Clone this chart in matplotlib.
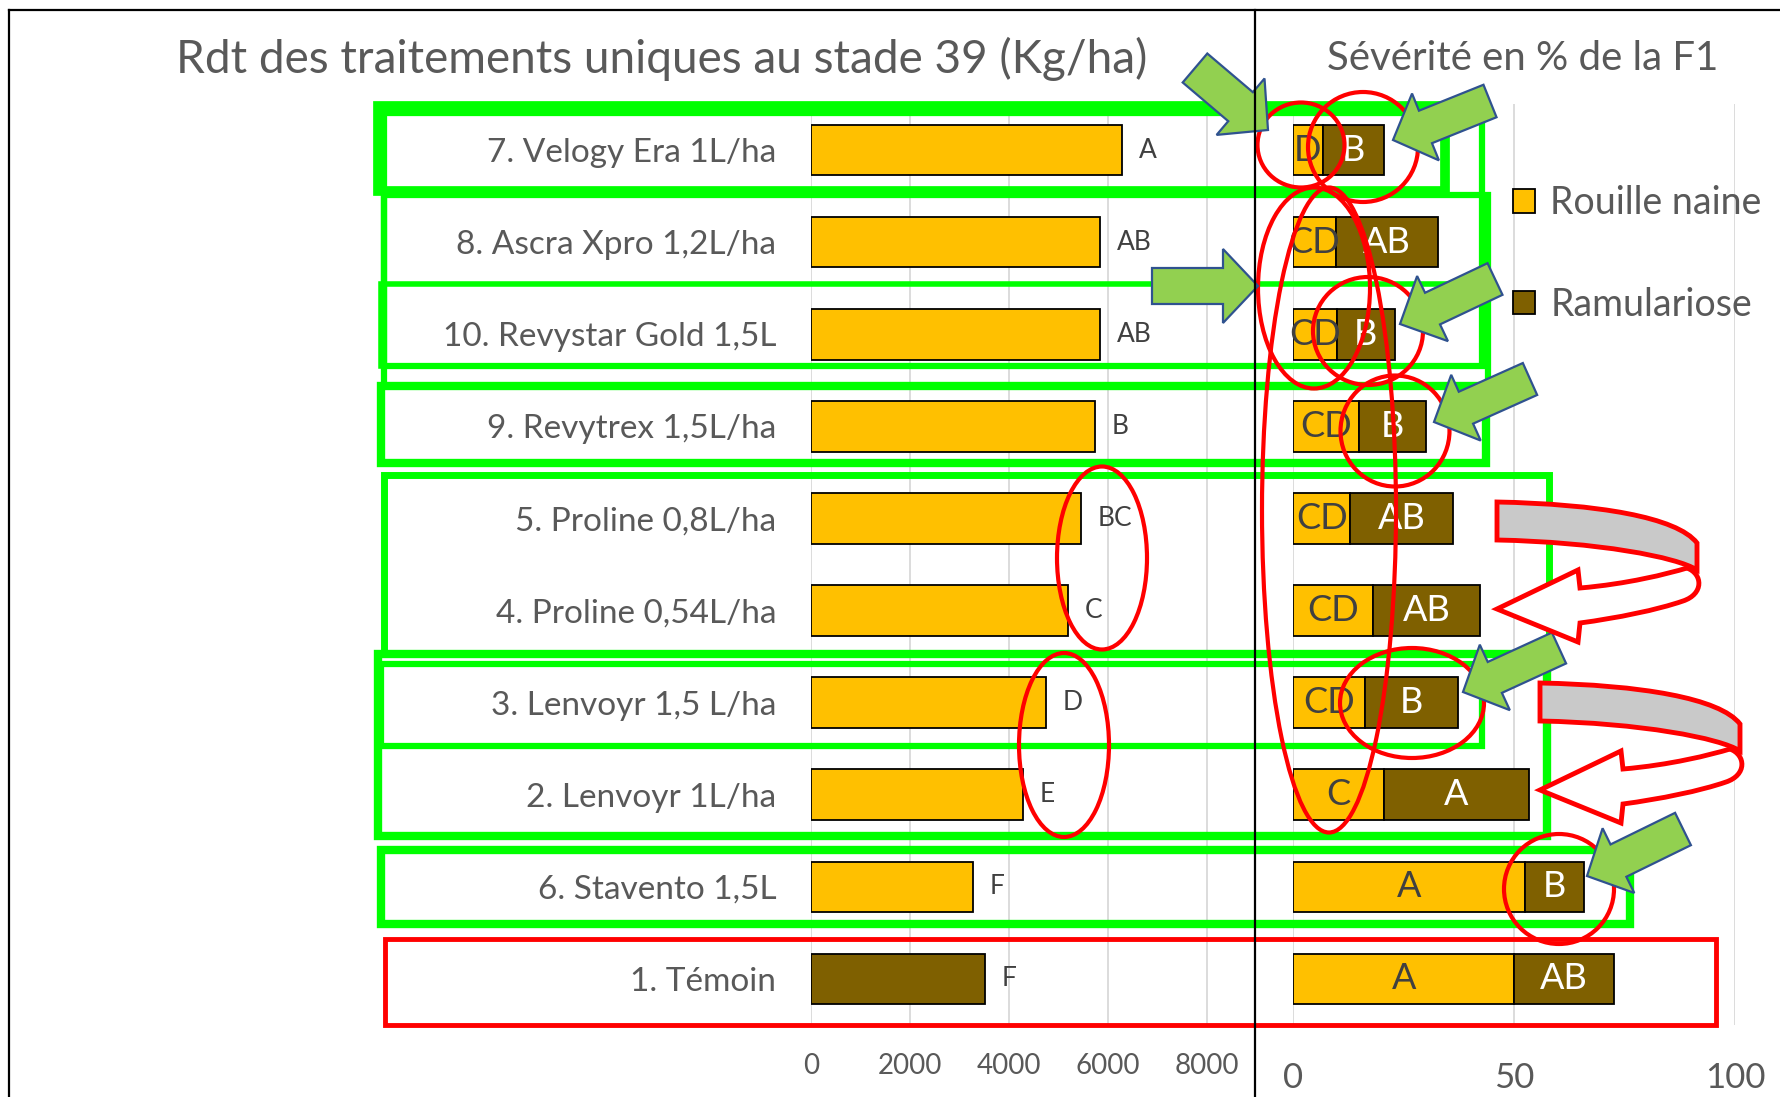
import numpy as np
import matplotlib
matplotlib.use('Agg')
import matplotlib.pyplot as plt
from matplotlib.patches import Ellipse, Polygon, Rectangle, PathPatch
from matplotlib.path import Path
from matplotlib.lines import Line2D

plt.rcParams['font.family'] = ['Lato', 'DejaVu Sans']

# ---- data (top to bottom as in the picture)
categories = ["7. Velogy Era 1L/ha", "8. Ascra Xpro 1,2L/ha", "10. Revystar Gold 1,5L",
              "9. Revytrex 1,5L/ha", "5. Proline 0,8L/ha", "4. Proline 0,54L/ha",
              "3. Lenvoyr 1,5 L/ha", "2. Lenvoyr 1L/ha", "6. Stavento 1,5L", "1. Témoin"]
rendement = [6290, 5850, 5845, 5750, 5455, 5200, 4745, 4285, 3280, 3520]
rdt_letters = ["A", "AB", "AB", "B", "BC", "C", "D", "E", "F", "F"]
rouille = [6.7, 9.7, 9.9, 14.9, 13.0, 18.0, 16.3, 20.5, 52.5, 50.1]
ramulariose = [13.9, 23.0, 13.1, 15.2, 23.3, 24.4, 21.0, 32.8, 13.4, 22.5]
rouille_letters = ["D", "CD", "CD", "CD", "CD", "CD", "CD", "C", "A", "A"]
ramul_letters = ["B", "AB", "B", "B", "AB", "AB", "B", "A", "B", "AB"]

W, H = 1781, 1097
gold = '#FFC000'
brown = '#7F6000'
grey_txt = '#595959'

def box(x0, y0, x1, y1):
    return [x0 / W, 1 - y1 / H, (x1 - x0) / W, (y1 - y0) / H]

fig = plt.figure(figsize=(W / 100, H / 100), dpi=100)
fig.patch.set_facecolor('white')

n = len(categories)
pos = np.arange(n)

# ---- left chart : yield
axL = fig.add_axes(box(811, 104, 1256, 1025))
colors = [brown if c.startswith('1.') else gold for c in categories]
barsL = axL.barh(pos, rendement, height=0.55, color=colors, edgecolor='black', linewidth=1.3)
axL.bar_label(barsL, labels=rdt_letters, padding=12, fontsize=19, color='#404040')
axL.set_xlim(0, 9000)
axL.set_ylim(n - 0.5, -0.5)
axL.set_xticks([0, 2000, 4000, 6000, 8000])
axL.set_yticks(pos, categories)
axL.grid(axis='x', color='#D9D9D9', linewidth=1.3)
axL.set_axisbelow(True)
for s in axL.spines.values():
    s.set_visible(False)
axL.tick_params(axis='both', length=0, colors=grey_txt)
axL.tick_params(axis='x', labelsize=20, pad=20)
axL.tick_params(axis='y', labelsize=24, pad=25)

# ---- right chart : severity
axR = fig.add_axes(box(1293, 104, 1735, 1025))
b1 = axR.barh(pos, rouille, height=0.55, color=gold, edgecolor='black', linewidth=1.3,
              label='Rouille naine')
b2 = axR.barh(pos, ramulariose, left=rouille, height=0.55, color=brown, edgecolor='black',
              linewidth=1.3, label='Ramulariose')
axR.bar_label(b1, labels=rouille_letters, label_type='center', fontsize=26, color='#404040')
axR.bar_label(b2, labels=ramul_letters, label_type='center', fontsize=26, color='white')
axR.set_xlim(0, 100)
axR.set_ylim(n - 0.5, -0.5)
axR.set_xticks([0, 50, 100])
axR.set_yticks([])
axR.grid(axis='x', color='#D9D9D9', linewidth=1.3)
axR.set_axisbelow(True)
for s in axR.spines.values():
    s.set_visible(False)
axR.tick_params(axis='x', length=0, colors=grey_txt, labelsize=25, pad=27)

fig.legend(handles=[b1, b2], loc='upper left', bbox_to_anchor=(1498 / W, 1 - 170 / H),
           frameon=False, fontsize=27, handlelength=0.6, handleheight=0.6,
           handletextpad=0.4, labelspacing=1.75, labelcolor=grey_txt, borderaxespad=0)

fig.text(662 / W, 1 - 59 / H, "Rdt des traitements uniques au stade 39 (Kg/ha)",
         ha='center', va='center', fontsize=33, color=grey_txt)
fig.text(1523 / W, 1 - 59 / H, "Sévérité en % de la F1",
         ha='center', va='center', fontsize=29, color=grey_txt)

# ---- overlay for the hand-drawn annotations (pixel coordinates)
ov = fig.add_axes([0, 0, 1, 1])
ov.set_xlim(0, W)
ov.set_ylim(H, 0)
ov.axis('off')
ov.patch.set_alpha(0)
ov.set_zorder(10)

for xs, ys in [([9, W], [10, 10]), ([9, 9], [10, H]), ([1255, 1255], [10, H])]:
    ov.add_line(Line2D(xs, ys, color='black', linewidth=1.6))

lime = '#00FF00'
green_rects = [  # x0, y0, x1, y1, lw
    (378, 106, 1445, 191, 7),
    (384, 113, 1482, 366, 4.5),
    (384, 195, 1488, 386, 4.5),
    (381, 284, 1482, 366, 4),
    (381, 386, 1486, 463, 6),
    (384, 475, 1549, 653, 5),
    (381, 664, 1482, 746, 4.5),
    (378, 654, 1547, 836, 6),
    (381, 850, 1630, 924, 6),
]
for x0, y0, x1, y1, lw in green_rects:
    ov.add_patch(Rectangle((x0, y0), x1 - x0, y1 - y0, fill=False, edgecolor=lime, linewidth=lw))
ov.add_patch(Rectangle((385, 939), 1716 - 385, 1025 - 939, fill=False, edgecolor='#FF0000', linewidth=3.5))

red_ellipses = [  # cx, cy, w, h
    (1102, 558, 90, 183), (1064, 745, 90, 184),
    (1301, 145, 87, 85), (1363, 147, 110, 110),
    (1314, 288, 112, 201), (1368, 331, 110, 108),
    (1395, 431, 109, 111), (1412, 703, 144, 110),
    (1559, 889, 110, 110), (1329, 510, 134, 645),
]
for cx, cy, w, h in red_ellipses:
    ov.add_patch(Ellipse((cx, cy), w, h, fill=False, edgecolor='#FF0000', linewidth=3))

def block_arrow(tail, tip, sw, hw, hl):
    t = np.array(tail, float)
    p = np.array(tip, float)
    d = (p - t) / np.linalg.norm(p - t)
    nrm = np.array([-d[1], d[0]])
    base = p - d * hl
    pts = [t + nrm * sw / 2, base + nrm * sw / 2, base + nrm * hw / 2, p,
           base - nrm * hw / 2, base - nrm * sw / 2, t - nrm * sw / 2]
    return Polygon(pts, closed=True, facecolor='#92D050', edgecolor='#2F528F', linewidth=1.6)

green_arrows = [  # tail, tip, shaft, head width, head length
    ((1195, 68), (1268, 130), 38, 74, 36),
    ((1490, 101), (1393, 140), 35, 72, 35),
    ((1152, 286), (1258, 286), 36, 74, 35),
    ((1495, 279), (1400, 324), 35, 72, 36),
    ((1530, 379), (1434, 422), 35, 72, 35),
    ((1559, 648), (1463, 692), 34, 72, 35),
    ((1683, 829), (1587, 876), 36, 72, 35),
]
for tail, tip, sw, hw, hl in green_arrows:
    ov.add_patch(block_arrow(tail, tip, sw, hw, hl))

def curved_arrow(x0, y0):
    M, L, C, Z = Path.MOVETO, Path.LINETO, Path.CURVE4, Path.CLOSEPOLY
    band = [(0, 0), (100, 2), (180, 15), (200, 41), (200, 68),
            (180, 55), (100, 40), (0, 38), (0, 0)]
    band_codes = [M, C, C, C, L, C, C, C, Z]
    arrow = [(0, 107), (81, 68), (83, 86), (130, 82), (170, 72), (190, 66),
             (206, 72), (207, 92), (186, 99), (160, 108), (120, 116), (83, 121),
             (81, 140), (0, 107)]
    arrow_codes = [M, L, L, C, C, C, C, C, C, C, C, C, L, Z]
    off = np.array([x0, y0])
    ov.add_patch(PathPatch(Path(np.array(band, float) + off, band_codes),
                           facecolor='#C9C9C9', edgecolor='#FF0000', linewidth=3.5))
    ov.add_patch(PathPatch(Path(np.array(arrow, float) + off, arrow_codes),
                           facecolor='white', edgecolor='#FF0000', linewidth=3.5))

curved_arrow(1497, 502)
curved_arrow(1540, 683)

fig.savefig('out.png', dpi=100)
